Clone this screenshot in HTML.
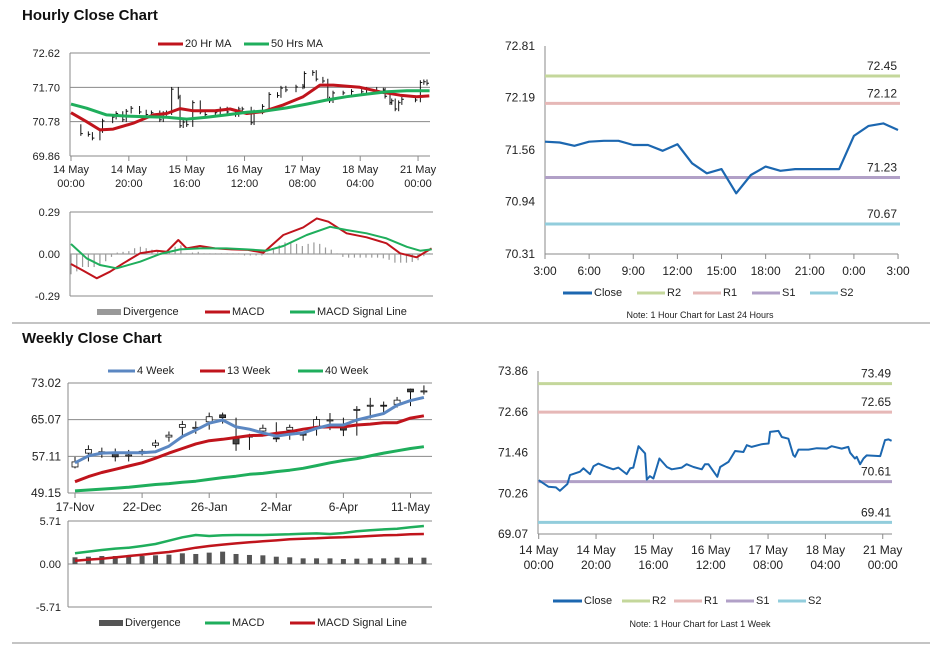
<!DOCTYPE html>
<html><head><meta charset="utf-8"><style>
html,body{margin:0;padding:0;background:#fff;}
svg{display:block;font-family:"Liberation Sans",Arial,sans-serif;}
</style></head><body>
<svg id="root" width="941" height="647" viewBox="0 0 941 647" xmlns="http://www.w3.org/2000/svg">
<text x="22" y="20" font-size="15" font-weight="bold" fill="#111">Hourly Close Chart</text>
<text x="22" y="343" font-size="15" font-weight="bold" fill="#111">Weekly Close Chart</text>
<line x1="12" y1="323" x2="930" y2="323" stroke="#888" stroke-width="1"/>
<line x1="12" y1="643" x2="930" y2="643" stroke="#888" stroke-width="1"/>
</svg>
<script>
// ---------- DATA ----------
const hourlyHours=[0,3.4,6.0,7.4,10,10.9,14.4,15.6,17.9,19.1,20.8,23.7,26,27.8,30.7,31.9,33,34.8,37.1,37.7,38.8,40,42.1,44.7,46.4,49.9,51.6,54,56.9,58,59.2,62.3,63.3,66.2,68.5,71.4,72.6,74.3,77.8,80.2,80.7,83.6,84.8,87.1,88.8,89.4,90.6,94.1,97,100.5,102.2,105.7,108,108.6,110.3,110.9,112.1,113.3,114.4,119.1,120.8,122,123.1];
const hourlyClose=[70.65,70.46,70.44,70.34,70.54,70.80,70.90,71.00,70.83,71.06,71.14,71.04,70.97,71.02,70.83,71.00,71.02,71.65,71.44,70.67,70.77,70.70,71.29,71.04,70.97,71.02,71.12,71.04,70.97,71.12,71.12,70.75,71.04,71.19,71.51,71.48,71.68,71.63,71.71,71.73,72.07,72.10,71.92,71.87,71.39,71.34,71.55,71.55,71.59,71.58,71.65,71.58,71.63,71.46,71.29,71.34,71.12,71.29,71.38,71.36,71.83,71.85,71.81];
const ma20Hours=[0,5.4,10,14.6,21.5,28.5,33.1,37.7,42.3,49.8,55,60.8,66.5,73.4,80.3,86.1,90.7,99.9,106.8,113.8,119.5,123.9];
const ma20Values=[71.02,70.78,70.56,70.58,70.74,70.96,71.00,71.13,71.07,71.07,71.12,71.00,71.05,71.23,71.45,71.76,71.76,71.70,71.58,71.49,71.45,71.47];
const ma50Hours=[0,5.4,12.3,19.3,26.2,33.1,40,46.9,53.8,60.8,67.7,74.6,81.5,88.4,95.3,102.2,109.1,116.1,124];
const ma50Values=[71.25,71.14,70.96,70.93,70.91,70.90,70.85,70.90,70.96,71.03,71.07,71.15,71.25,71.36,71.45,71.52,71.58,71.61,71.61];
const macdHours=[0,4.3,8.9,13.5,18.1,23.9,29.6,33.1,37.1,40,44.6,49.8,55.5,61.2,66.5,73.4,80.3,85,89,95.3,102.2,109.1,113.8,119.5,124.7];
const macdValues=[-0.069,-0.115,-0.168,-0.122,-0.064,0.005,0.023,0.016,0.097,0.039,0.055,0.039,0.032,0.028,0.009,0.131,0.184,0.246,0.223,0.143,0.115,0.074,0.005,-0.023,0.039];
const sigHours=[0,5.4,10,15.8,23.9,30.8,37.7,44.6,53.8,60.8,67.7,73.4,81.5,89.6,95.3,102.2,109.1,116.1,120.7,124.7];
const sigValues=[0.069,-0.030,-0.076,-0.099,-0.053,0,0.032,0.039,0.039,0.032,0.023,0.055,0.131,0.188,0.166,0.143,0.108,0.050,0.023,0.032];
const divValues=[-0.14,-0.12,-0.09,-0.09,-0.09,-0.08,-0.05,-0.02,0.01,0.015,0.02,0.04,0.05,0.04,0.03,0.02,0.01,0.01,0.05,0.06,0.005,0.01,0.015,0.005,0.005,0.005,0.005,0.005,0.005,0.005,-0.01,-0.01,-0.01,-0.01,0.005,0.035,0.06,0.08,0.075,0.07,0.055,0.07,0.08,0.07,0.045,0.03,0.005,-0.02,-0.025,-0.025,-0.025,-0.025,-0.025,-0.025,-0.03,-0.04,-0.06,-0.06,-0.06,-0.055,-0.043,-0.015,0.005];
const dayLabels=["3:00","6:00","9:00","12:00","15:00","18:00","21:00","0:00","3:00"];
const dayClose=[71.66,71.65,71.61,71.66,71.67,71.67,71.62,71.62,71.55,71.63,71.40,71.28,71.33,71.04,71.26,71.36,71.31,71.33,71.33,71.33,71.33,71.73,71.85,71.88,71.80];
const dayLevels=[72.45,72.12,71.23,70.67];
const weekLevels=[73.49,72.65,70.61,69.41];
const levelNames=["R2","R1","S1","S2"];
const weekLabels=["17-Nov","22-Dec","26-Jan","2-Mar","6-Apr","11-May"];
const wkOpen=[54.8,57.8,57.7,57.8,57.2,58.0,59.5,61.3,63.4,63.2,64.6,66.1,61.3,61.3,62.6,61.1,62.8,62.0,63.3,64.8,63.7,67.3,68.2,68.2,68.4,71.7,71.3];
const wkClose=[55.9,58.6,58.1,57.0,57.4,58.2,60.0,61.7,64.0,63.4,65.7,65.5,59.8,61.5,63.2,61.0,63.4,61.7,65.1,65.0,62.8,67.3,68.2,68.0,69.3,71.1,71.3];
const wkHigh=[57.0,59.5,59.0,58.8,58.5,58.7,60.7,62.5,64.8,64.7,66.6,66.6,65.5,62.0,64.0,64.5,64.0,62.5,65.8,66.5,65.5,68.0,69.8,69.0,70.0,71.8,72.5];
const wkLow=[54.5,56.0,56.8,56.0,56.0,57.3,59.0,60.3,61.3,62.0,62.9,64.2,58.3,58.5,61.5,60.2,60.7,60.5,61.6,62.8,61.5,61.6,65.3,66.2,67.7,68.0,70.5];
const wk4=[55.7,57.2,57.8,57.9,57.9,57.9,58.1,59.3,61.4,62.8,64.3,65.0,63.5,63.0,62.2,61.5,61.9,62.2,63.2,63.9,63.9,65.0,65.7,66.4,68.2,69.2,69.9];
const wk13=[51.6,52.7,53.6,54.3,55.0,55.7,56.7,57.8,58.8,59.8,60.5,60.8,61.2,61.6,61.7,62.1,62.4,63.0,63.4,63.5,63.5,63.9,64.1,64.4,64.4,65.4,65.9];
const wk40=[49.6,49.8,50.0,50.2,50.4,50.7,51.0,51.2,51.5,51.7,52.1,52.5,52.8,53.2,53.4,53.8,54.1,54.5,55.1,55.7,56.2,56.6,57.2,57.8,58.3,58.8,59.2];
const wkMacd=[1.42,1.64,1.86,2.04,2.17,2.39,2.66,3.10,3.54,3.85,3.72,3.81,3.85,3.85,3.85,3.90,3.94,4.03,4.07,3.98,4.12,4.34,4.47,4.60,4.69,4.87,5.05];
const wkSig=[0.44,0.58,0.71,0.88,1.06,1.24,1.42,1.59,1.86,2.17,2.39,2.57,2.74,2.88,3.01,3.14,3.28,3.36,3.41,3.50,3.54,3.63,3.72,3.81,3.85,3.94,3.98];
const wkDiv=[0.89,0.97,1.06,1.06,0.97,1.06,1.15,1.24,1.42,1.33,1.51,1.64,1.33,1.20,1.15,0.97,0.89,0.75,0.75,0.75,0.66,0.71,0.75,0.75,0.84,0.84,0.84];
const hourTickLabels=[["14 May","00:00"],["14 May","20:00"],["15 May","16:00"],["16 May","12:00"],["17 May","08:00"],["18 May","04:00"],["21 May","00:00"]];
const hourTickHours=[0,20,40,60,80,100,120];

// ---------- HELPERS ----------
const NS="http://www.w3.org/2000/svg";
const root=document.getElementById('root');
function mk(tag,attrs,name,parent){
  const el=document.createElementNS(NS,tag);
  for(const k in attrs) el.setAttribute(k,attrs[k]);
  
  
  (parent||root).appendChild(el);
  return el;
}
function txt(x,y,s,name,opts){
  opts=opts||{};
  const t=mk('text',{x:x,y:y,'font-size':opts.size||11,fill:opts.fill||'#222','text-anchor':opts.anchor||'start'},name);
  t.textContent=s;return t;
}
function line(x1,y1,x2,y2,c,w,name){return mk('line',{x1:x1,y1:y1,x2:x2,y2:y2,stroke:c,'stroke-width':w},name);}
function poly(xs,ys,c,w,name){
  const pts=xs.map((x,i)=>x.toFixed(1)+','+ys[i].toFixed(1)).join(' ');
  return mk('polyline',{points:pts,fill:'none',stroke:c,'stroke-width':w,'stroke-linejoin':'round'},name);
}
function legend(x,y,color,label,name,w,h){
  mk('rect',{x:x,y:y-(h||3)/2-3,width:w||25,height:h||3,fill:color},name+'-swatch');
  txt(x+(w||25)+2,y,label,name,{size:11});
}
const GRID='#8a8a8a', RED='#c0141c', GRN='#1fae5c', BLUE='#5b87c2', CLOSE='#1c67b0';
const LVC=['#c4d79b','#e6b8b7','#b1a0c7','#92cddc'];

// ---------- CHART A ----------
const xA=h=>71+h*2.892, yA=v=>53+(72.62-v)/2.76*103;
[72.62,71.70,70.78,69.86].forEach(v=>{line(70,yA(v),430,yA(v),GRID,1,'hourly-gridline');txt(60,yA(v)+4,v.toFixed(2),'hourly-y-tick',{anchor:'end'});});
line(70,53,70,156,GRID,1,'hourly-y-axis');
hourTickHours.forEach((h,i)=>{line(xA(h),156,xA(h),161,GRID,1,'hourly-x-tick');
  txt(xA(h),173,hourTickLabels[i][0],'hourly-x-label',{anchor:'middle'});txt(xA(h),187,hourTickLabels[i][1],'hourly-x-label',{anchor:'middle'});});
hourlyClose.forEach((v,i)=>{if(i===0)return;const p=hourlyClose[i-1];
  const x=xA(hourlyHours[i]);const hi=Math.max(v,p)+0.06, lo=Math.min(v,p)-0.06;
  line(x,yA(hi),x,yA(lo),'#111',1,'hourly-candle');
  line(x,yA(v),x+2,yA(v),'#111',1,'hourly-candle-close');});
poly(ma20Hours.map(xA),ma20Values.map(yA),RED,3,'ma20-line');
poly(ma50Hours.map(xA),ma50Values.map(yA),GRN,3,'ma50-line');
legend(158,47,RED,'20 Hr MA','legend-20hr-ma');
legend(244,47,GRN,'50 Hrs MA','legend-50hrs-ma');

const yM=v=>254-v/0.29*42;
[0.29,0,-0.29].forEach(v=>{line(70,yM(v),433,yM(v),GRID,1,'hourly-macd-gridline');txt(60,yM(v)+4,v.toFixed(2),'hourly-macd-y-tick',{anchor:'end'});});
line(70,212,70,296,GRID,1,'hourly-macd-y-axis');
divValues.forEach((v,i)=>{const x=xA(i*2);line(x,yM(0),x,yM(v),'#9a9a9a',1.2,'hourly-divergence-bar');});
poly(macdHours.map(xA),macdValues.map(yM),RED,2,'hourly-macd-line');
poly(sigHours.map(xA),sigValues.map(yM),GRN,2,'hourly-signal-line');
legend(97,315,'#999','Divergence','legend-hourly-divergence',24,6);
legend(205,315,RED,'MACD','legend-hourly-macd');
legend(290,315,GRN,'MACD Signal Line','legend-hourly-signal');

// ---------- CHART B ----------
const xB=h=>545+h*14.71, yB=v=>46+(72.81-v)/2.5*208;
[72.81,72.19,71.56,70.94,70.31].forEach(v=>txt(535,yB(v)+4,v.toFixed(2),'day-y-tick',{anchor:'end',size:12}));
line(545,46,545,254,GRID,1,'day-y-axis');line(545,254,898,254,GRID,1,'day-x-axis');
dayLabels.forEach((s,i)=>{const x=xB(i*3);line(x,254,x,259,GRID,1,'day-x-tick');txt(x,275,s,'day-x-label',{anchor:'middle',size:12});});
dayLevels.forEach((v,i)=>{line(545,yB(v),900,yB(v),LVC[i],3,'day-level-'+levelNames[i]);txt(897,yB(v)-6,v.toFixed(2),'day-level-label',{anchor:'end',size:12});});
poly(dayClose.map((v,i)=>xB(i)),dayClose.map(yB),CLOSE,2.2,'day-close-line');
legend(563,296,CLOSE,'Close','legend-day-close',29);
levelNames.forEach((n,i)=>legend([637,693,752,810][i],296,LVC[i],n,'legend-day-'+n,28));
txt(700,318,'Note: 1 Hour Chart for Last 24 Hours','day-note',{anchor:'middle',size:9});

// ---------- CHART C ----------
const xC=i=>75+i*13.42, yC=v=>383+(73.02-v)/23.87*110;
[73.02,65.07,57.11,49.15].forEach(v=>{line(68,yC(v),432,yC(v),GRID,1,'weekly-gridline');txt(61,yC(v)+4,v.toFixed(2),'weekly-y-tick',{anchor:'end',size:12});});
line(68,383,68,493,GRID,1,'weekly-y-axis');
weekLabels.forEach((s,i)=>{const x=xC(i*5);line(x,493,x,498,GRID,1,'weekly-x-tick');txt(x,511,s,'weekly-x-label',{anchor:'middle',size:12});});
wkClose.forEach((c,i)=>{const x=xC(i),o=wkOpen[i];
  line(x,yC(wkHigh[i]),x,yC(wkLow[i]),'#111',1,'weekly-candle-wick');
  const top=yC(Math.max(o,c)),bot=yC(Math.min(o,c));
  mk('rect',{x:x-3,y:top,width:6,height:Math.max(1,bot-top),fill:c>=o?'#fff':'#444',stroke:'#111','stroke-width':0.8},'weekly-candle-body');});
poly(wk40.map((v,i)=>xC(i)),wk40.map(yC),GRN,3,'week40-line');
poly(wk13.map((v,i)=>xC(i)),wk13.map(yC),RED,3,'week13-line');
poly(wk4.map((v,i)=>xC(i)),wk4.map(yC),BLUE,3,'week4-line');
legend(108,374,BLUE,'4 Week','legend-4-week',27);
legend(200,374,RED,'13 Week','legend-13-week');
legend(298,374,GRN,'40 Week','legend-40-week');

const yCM=v=>564-v/5.71*43;
[5.71,0,-5.71].forEach(v=>{line(68,yCM(v),432,yCM(v),GRID,1,'weekly-macd-gridline');txt(61,yCM(v)+4,v.toFixed(2),'weekly-macd-y-tick',{anchor:'end'});});
line(68,521,68,607,GRID,1,'weekly-macd-y-axis');
wkDiv.forEach((v,i)=>mk('rect',{x:xC(i)-2.5,y:yCM(v),width:5,height:yCM(0)-yCM(v),fill:'#555'},'weekly-divergence-bar'));
poly(wkMacd.map((v,i)=>xC(i)),wkMacd.map(yCM),GRN,2.5,'weekly-macd-line');
poly(wkSig.map((v,i)=>xC(i)),wkSig.map(yCM),RED,2.5,'weekly-signal-line');
legend(99,626,'#555','Divergence','legend-weekly-divergence',24,6);
legend(205,626,GRN,'MACD','legend-weekly-macd');
legend(290,626,RED,'MACD Signal Line','legend-weekly-signal');

// ---------- CHART D ----------
const xD=h=>538.7+h*2.867, yD=v=>371+(73.86-v)/4.79*163;
[73.86,72.66,71.46,70.26,69.07].forEach(v=>txt(528,yD(v)+4,v.toFixed(2),'week-y-tick',{anchor:'end',size:12}));
line(538,371,538,534,GRID,1,'week-y-axis');line(538,534,892,534,GRID,1,'week-x-axis');
hourTickHours.forEach((h,i)=>{line(xD(h),534,xD(h),539,GRID,1,'week-x-tick');
  txt(xD(h),554,hourTickLabels[i][0],'week-x-label',{anchor:'middle',size:12});txt(xD(h),569,hourTickLabels[i][1],'week-x-label',{anchor:'middle',size:12});});
weekLevels.forEach((v,i)=>{line(538,yD(v),892,yD(v),LVC[i],3,'week-level-'+levelNames[i]);txt(891,yD(v)-6,v.toFixed(2),'week-level-label',{anchor:'end',size:12});});
poly(hourlyHours.map(xD),hourlyClose.map(yD),CLOSE,2,'week-close-line');
legend(553,604,CLOSE,'Close','legend-week-close',29);
levelNames.forEach((n,i)=>legend([622,674,726,778][i],604,LVC[i],n,'legend-week-'+n,28));
txt(700,627,'Note: 1 Hour Chart for Last 1 Week','week-note',{anchor:'middle',size:9});
</script>
</body></html>
